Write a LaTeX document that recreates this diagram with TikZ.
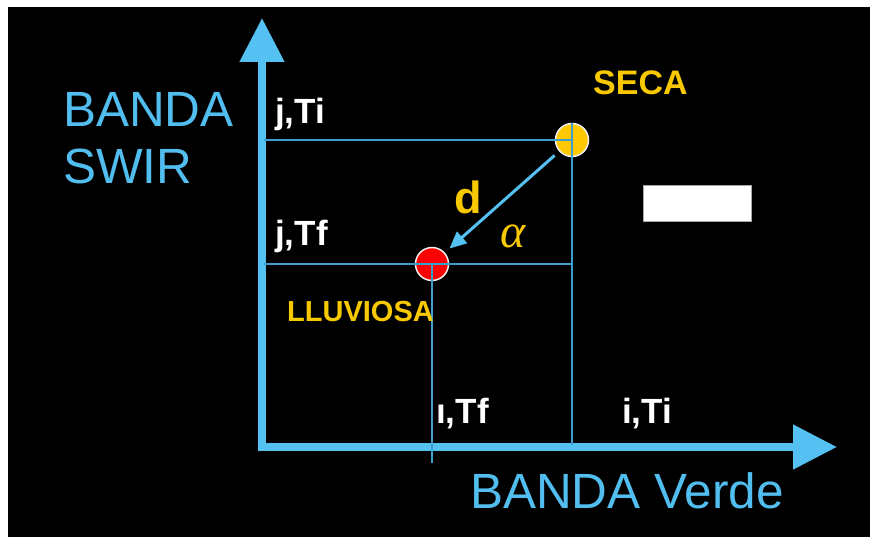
\documentclass[tikz,border=0pt]{standalone}
\usepackage{fontspec}
\setmainfont{Liberation Sans}
\newfontfamily\alphafont{Liberation Serif}
\usetikzlibrary{arrows.meta}
\definecolor{axisblue}{HTML}{55C0F2}
\definecolor{thinblue}{HTML}{3B9FD0}
\definecolor{labelblue}{HTML}{52BEF0}
\definecolor{secayellow}{HTML}{FFC800}
\definecolor{txtyellow}{HTML}{F8C800}
\tikzset{
  axisline/.style={draw=axisblue, line width=8pt, -{Triangle[length=44pt,width=43pt]}},
  thinline/.style={draw=thinblue, line width=2pt},
  bigblue/.style={text=labelblue, font=\fontsize{49.5}{49.5}\selectfont, inner sep=0pt, anchor=base west},
  coordtxt/.style={text=white, font=\bfseries\fontsize{35}{35}\selectfont, inner sep=0pt, anchor=base west},
  yellowtxt/.style={text=txtyellow, font=\bfseries\fontsize{34}{34}\selectfont, inner sep=0pt, anchor=base west},
  pointdot/.style={circle, minimum size=33pt, inner sep=0pt, draw=white!88!gray, line width=1.5pt},
}
\begin{document}
\begin{tikzpicture}[x=1pt,y=-1pt]
\useasboundingbox (0,0) rectangle (870,537);
\fill[white] (0,0) rectangle (870,537);
\fill[black] (8,7) rectangle (870,537);
% axes
\coordinate (O) at (262,447);
\coordinate (ytip) at (262,18);
\coordinate (xtip) at (837,447);
\draw[axisline] ([yshift=4pt]O) -- (ytip);
\draw[axisline] ([xshift=-4pt]O) -- (xtip);
% points
\node[pointdot, fill=secayellow] (seca) at (572,140) {};
\node[pointdot, fill=red] (lluv) at (432,264) {};
\coordinate (yTi) at (264,140);
\coordinate (yTf) at (264,264);
\coordinate (xTi) at (572,445);
\coordinate (xTf) at (432,463);
\coordinate (hTf) at (572,264);
\draw[thinline] (yTi) -- (seca.center);
\draw[thinline] (seca.north) -- (xTi);
\draw[thinline] (yTf) -- (hTf);
\draw[thinline] (lluv.center) -- (xTf);
% distance arrow
\draw[draw=axisblue, line width=3pt, -{Triangle[length=17pt,width=15pt]}, shorten <=6pt, shorten >=6pt] (seca) -- (lluv);
% labels
\node[bigblue] (swir1) at (63,127) {BANDA};
\node[bigblue] (swir2) at (63,184) {SWIR};
\node[bigblue] (verde) at (470,508) {BANDA Verde};
\node[coordtxt] (jti) at (275,124) {j,Ti};
\node[coordtxt] (jtf) at (275,246) {j,Tf};
\node[coordtxt] (itf) at (436,423) {ı,Tf};
\node[coordtxt] (iti) at (622,423) {i,Ti};
\node[yellowtxt] (secalbl) at (593,95) {SECA};
\node[yellowtxt, font=\bfseries\fontsize{29}{29}\selectfont] (lluvlbl) at (287,322) {LLUVIOSA};
\node[text=txtyellow, font=\bfseries\fontsize{45}{45}\selectfont, inner sep=0pt, anchor=base west] (dlbl) at (454,214) {d};
\node[text=txtyellow, font=\alphafont\itshape\fontsize{48}{48}\selectfont, inner sep=0pt, anchor=base west] (alpha) at (500,248) {α};
\node[draw=gray!70, fill=white, line width=1pt, minimum width=108pt, minimum height=36pt, inner sep=0pt] (box) at (697.5,203.5) {};
\end{tikzpicture}
\end{document}
